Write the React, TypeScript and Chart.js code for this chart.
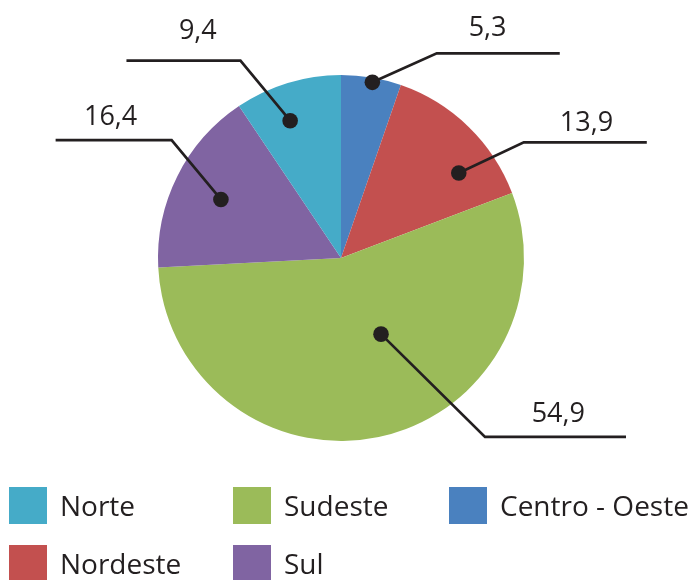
import React, { useEffect, useRef } from "react";
import { Chart, registerables } from "chart.js";

Chart.register(...registerables);

// Slices in clockwise order starting at 12 o'clock
const categories = ["Centro - Oeste", "Nordeste", "Sudeste", "Sul", "Norte"];
const values = [5.3, 13.9, 54.9, 16.4, 9.4];
const colors = ["#4A81BF", "#C3504F", "#9BBB59", "#8064A2", "#45ABC8"];

// Legend order (column-major, two rows)
const legendOrder = ["Norte", "Nordeste", "Sudeste", "Sul", "Centro - Oeste"];

// Callout styling per slice (same order as categories):
// f = fraction through the slice angle, r = fraction of radius for the dot,
// ex/ey = elbow offset from dot, len = horizontal run, tx/ty = text offset from elbow
const callouts = [
  { f: 0.53, r: 0.975, ex: 64.4, ey: -29, len: 123, tx: 50.8, ty: -17.6 },
  { f: 0.7, r: 0.794, ex: 65, ey: -30.6, len: 123, tx: 62.7, ty: -11 },
  { f: 0.42, r: 0.47, ex: 104, ey: 102.7, len: 141, tx: 73.3, ty: -15 },
  { f: 0.49, r: 0.73, ex: -49.3, ey: -59.3, len: -116, tx: -61, ty: -15.6 },
  { f: 0.4, r: 0.8, ex: -49.7, ey: -60, len: -114, tx: -42.6, ty: -22 },
];

const INK = "#231F20";
const FONT = '"Open Sans", "Noto Sans", sans-serif';

const fmt = (v: number) => v.toFixed(1).replace(".", ",");

const calloutPlugin = {
  id: "callouts",
  afterDatasetsDraw(chart: any) {
    const ctx = chart.ctx as CanvasRenderingContext2D;
    const meta = chart.getDatasetMeta(0);
    ctx.save();
    meta.data.forEach((arc: any, i: number) => {
      const p = arc.getProps(["x", "y", "startAngle", "endAngle", "outerRadius"], true);
      const c = callouts[i];
      const ang = p.startAngle + c.f * (p.endAngle - p.startAngle);
      const dx = p.x + Math.cos(ang) * p.outerRadius * c.r;
      const dy = p.y + Math.sin(ang) * p.outerRadius * c.r;
      const exx = dx + c.ex;
      const eyy = dy + c.ey;
      ctx.strokeStyle = INK;
      ctx.lineWidth = 2.7;
      ctx.lineJoin = "miter";
      ctx.beginPath();
      ctx.moveTo(dx, dy);
      ctx.lineTo(exx, eyy);
      ctx.lineTo(exx + c.len, eyy);
      ctx.stroke();
      ctx.fillStyle = INK;
      ctx.beginPath();
      ctx.arc(dx, dy, 7.8, 0, Math.PI * 2);
      ctx.fill();
      ctx.font = `27px ${FONT}`;
      ctx.textAlign = "center";
      ctx.textBaseline = "alphabetic";
      ctx.fillText(fmt(values[i]), exx + c.tx, eyy + c.ty);
    });
    ctx.restore();
  },
};

const legendPlugin = {
  id: "gridLegend",
  afterDraw(chart: any) {
    const ctx = chart.ctx as CanvasRenderingContext2D;
    const colX = [9, 233, 449];
    const rowY = [487, 545];
    ctx.save();
    legendOrder.forEach((name, k) => {
      const col = Math.floor(k / 2);
      const row = k % 2;
      const idx = categories.indexOf(name);
      const x = colX[col];
      const y = rowY[row];
      ctx.fillStyle = colors[idx];
      ctx.fillRect(x, y, 38, 37);
      ctx.fillStyle = INK;
      ctx.font = `28px ${FONT}`;
      ctx.textAlign = "left";
      ctx.textBaseline = "alphabetic";
      ctx.fillText(name, x + 51, y + 29);
    });
    ctx.restore();
  },
};

export default function App() {
  const ref = useRef<HTMLCanvasElement | null>(null);
  useEffect(() => {
    if (!ref.current) return;
    const chart = new Chart(ref.current, {
      type: "pie",
      data: {
        labels: categories,
        datasets: [
          {
            data: values,
            backgroundColor: colors,
            borderWidth: 0,
          },
        ],
      },
      options: {
        responsive: false,
        maintainAspectRatio: false,
        animation: false,
        layout: { padding: { left: 158, top: 75, right: 167, bottom: 139 } },
        plugins: {
          legend: { display: false },
          tooltip: { enabled: false },
        },
      },
      plugins: [calloutPlugin, legendPlugin],
    });
    return () => chart.destroy();
  }, []);
  return (
    <div style={{ position: "absolute", left: 0, top: 0, width: 691, height: 580, background: "#fff" }}>
      <canvas ref={ref} width={691} height={580} style={{ display: "block" }} />
    </div>
  );
}
